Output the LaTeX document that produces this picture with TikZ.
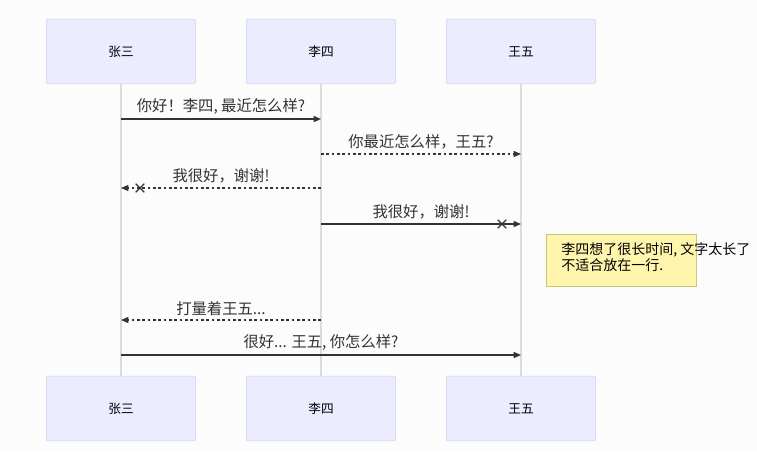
\documentclass[tikz,border=0pt]{standalone}
\usepackage{fontspec}
\setmainfont{Noto Sans CJK SC}
\usetikzlibrary{arrows.meta,shapes.misc}
\definecolor{actorfill}{HTML}{ECECFF}
\definecolor{actorline}{HTML}{CFCFF0}
\definecolor{notefill}{HTML}{FFF5AD}
\definecolor{noteline}{HTML}{C8C87A}
\definecolor{msgline}{HTML}{333333}

\begin{document}
\begin{tikzpicture}[x=0.75pt, y=-0.75pt,
    actor/.style={rectangle, draw=actorline, fill=actorfill, rounded corners=1.5pt,
      minimum width=112pt, minimum height=48.5pt, font=\fontsize{9.5}{11}\selectfont},
    life/.style={draw=black!14, line width=1.1pt},
    msg/.style={draw=msgline, line width=0.9pt, -{Triangle[length=5.5pt,width=4.5pt]}},
    reply/.style={msg, dash pattern=on 2pt off 2pt},
    lost/.style={cross out, draw=msgline, solid, line width=0.9pt, inner sep=0pt, minimum size=5.5pt},
    lbl/.style={font=\fontsize{11.5}{13}\selectfont, text=msgline, inner sep=0pt}]
  \useasboundingbox[fill=black!1] (0,0) rectangle (757,451);
  % actors
  \node[actor] (a1) at (121, 51.5) {张三};
  \node[actor] (a2) at (321, 51.5) {李四};
  \node[actor] (a3) at (521, 51.5) {王五};
  \node[actor] (b1) at (121, 408.5) {张三};
  \node[actor] (b2) at (321, 408.5) {李四};
  \node[actor] (b3) at (521, 408.5) {王五};
  \draw[life] (a1) -- (b1);
  \draw[life] (a2) -- (b2);
  \draw[life] (a3) -- (b3);
  % message rows
  \coordinate (m1a) at (121,119); \coordinate (m1b) at (321,119);
  \coordinate (m2a) at (321,154); \coordinate (m2b) at (521,154);
  \coordinate (m3a) at (321,188); \coordinate (m3b) at (121,188);
  \coordinate (m4a) at (321,224); \coordinate (m4b) at (521,224);
  \coordinate (m5a) at (321,320); \coordinate (m5b) at (121,320);
  \coordinate (m6a) at (121,355); \coordinate (m6b) at (521,355);
  \draw[msg] (m1a) -- (m1b) node[lbl, midway, above=3pt] {你好！李四, 最近怎么样?};
  \draw[reply] (m2a) -- (m2b) node[lbl, midway, above=3pt] {你最近怎么样，王五?};
  \draw[reply] (m3a) -- (m3b) node[lbl, midway, above=3pt] {我很好，谢谢!}
    node[lost, pos=0.905] {};
  \draw[msg] (m4a) -- (m4b) node[lbl, midway, above=3pt] {我很好，谢谢!}
    node[lost, pos=0.905] {};
  \draw[reply] (m5a) -- (m5b) node[lbl, midway, above=3pt] {打量着王五...};
  \draw[msg] (m6a) -- (m6b) node[lbl, midway, above=3pt] {很好... 王五, 你怎么样?};
  % note
  \node[draw=noteline, fill=notefill, minimum width=112.5pt, minimum height=39pt,
    anchor=north west] (note) at (546,234) {};
  \node[lbl, anchor=north west, align=left, font=\fontsize{10.5}{12.5}\selectfont, text=black]
    (notetext) at (561,242) {李四想了很长时间, 文字太长了\\不适合放在一行.};
\end{tikzpicture}
\end{document}
